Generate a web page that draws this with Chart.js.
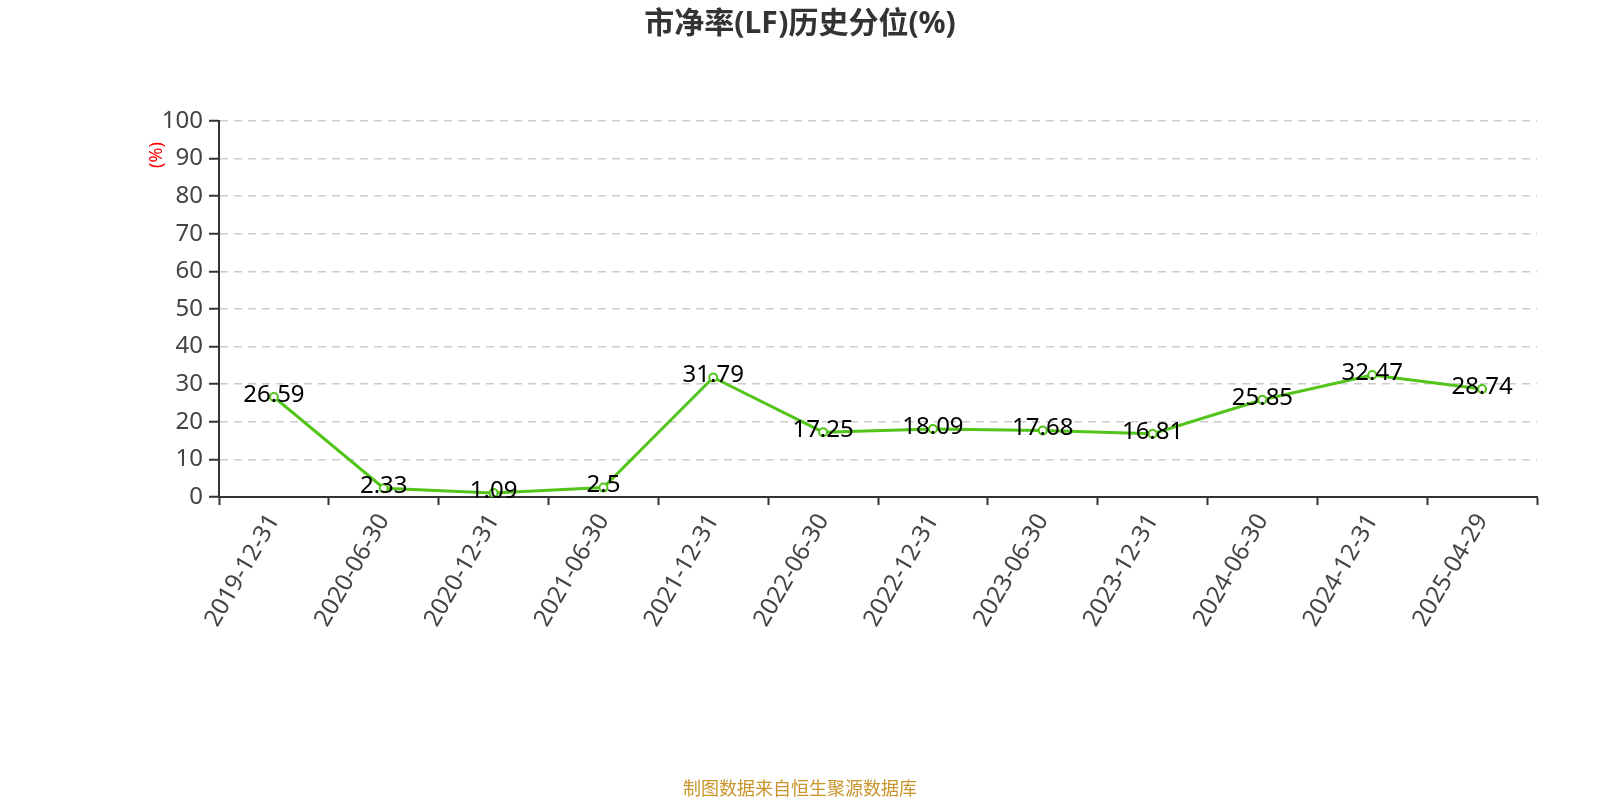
<!DOCTYPE html>
<html lang="zh">
<head>
<meta charset="UTF-8">
<title>市净率(LF)历史分位(%)</title>
<script src="https://cdn.jsdelivr.net/npm/chart.js@4.4.0/dist/chart.umd.min.js"></script>
<style>
    html, body { margin: 0; padding: 0; background: #fff; }
    #wrap { width: 1600px; height: 800px; }
</style>
</head>
<body>
<div id="wrap"><canvas id="pbChart" width="1600" height="800"></canvas></div>
<script>
// 日期
var dates = ['2019-12-31', '2020-06-30', '2020-12-31', '2021-06-30', '2021-12-31', '2022-06-30',
             '2022-12-31', '2023-06-30', '2023-12-31', '2024-06-30', '2024-12-31', '2025-04-29'];
// 历史分位值
var pbPercentile = [26.59, 2.33, 1.09, 2.5, 31.79, 17.25, 18.09, 17.68, 16.81, 25.85, 32.47, 28.74];
var yTicks = [0, 10, 20, 30, 40, 50, 60, 70, 80, 90, 100];

var FONT = "'Noto Sans', 'Noto Sans CJK SC', sans-serif";

// 标题, 单位, 数据来源
var textPlugin = {
    id: 'texts',
    afterDraw: function(chart) {
        var ctx = chart.ctx;
        ctx.save();
        ctx.textAlign = 'center';
        ctx.textBaseline = 'middle';
        ctx.fillStyle = '#333';
        ctx.font = 'bold 30px ' + FONT;
        ctx.fillText('市净率(LF)历史分位(%)', 800, 24);

        ctx.fillStyle = '#c9952b';
        ctx.font = '18px ' + FONT;
        ctx.fillText('制图数据来自恒生聚源数据库', 800, 790);

        ctx.translate(157, 155);
        ctx.rotate(-Math.PI / 2);
        ctx.fillStyle = '#ff0000';
        ctx.font = '18px ' + FONT;
        ctx.fillText('(%)', 0, 0);
        ctx.restore();
    }
};

// 数据标签
var labelPlugin = {
    id: 'pointLabels',
    afterDatasetsDraw: function(chart) {
        var ctx = chart.ctx;
        var meta = chart.getDatasetMeta(0);
        ctx.save();
        ctx.font = '24px ' + FONT;
        ctx.fillStyle = '#000';
        ctx.textAlign = 'center';
        ctx.textBaseline = 'middle';
        meta.data.forEach(function(pt, i) {
            ctx.fillText(String(pbPercentile[i]), pt.x, pt.y - 2);
        });
        ctx.restore();
    }
};

var ctx = document.getElementById('pbChart').getContext('2d');
var chart = new Chart(ctx, {
    type: 'line',
    data: {
        labels: dates,
        datasets: [{
            data: pbPercentile,
            borderColor: '#52c41a',
            borderWidth: 3,
            backgroundColor: '#fff',
            pointBackgroundColor: '#fff',
            pointBorderColor: '#52c41a',
            pointBorderWidth: 2,
            pointRadius: 4,
            tension: 0,
            fill: false
        }]
    },
    options: {
        responsive: false,
        animation: false,
        events: [],
        layout: { padding: { left: 0, right: 63, top: 121, bottom: 0 } },
        plugins: {
            legend: { display: false },
            title: { display: false },
            tooltip: { enabled: false }
        },
        scales: {
            x: {
                type: 'category',
                offset: true,
                grid: {
                    display: true,
                    offset: true,
                    drawOnChartArea: false,
                    drawTicks: true,
                    tickLength: 8,
                    tickColor: '#333',
                    tickWidth: 2
                },
                border: { display: true, color: '#333', width: 2 },
                ticks: {
                    autoSkip: false,
                    minRotation: 60,
                    maxRotation: 60,
                    padding: 4,
                    color: '#444',
                    font: { family: FONT, size: 24 }
                },
                afterFit: function(s) { s.height = 303; }
            },
            y: {
                min: 0,
                max: 100,
                afterBuildTicks: function(s) {
                    s.ticks = yTicks.map(function(v) { return { value: v }; });
                },
                grid: {
                    color: '#cccccc',
                    lineWidth: 1.5,
                    drawTicks: true,
                    tickLength: 10,
                    tickColor: '#333',
                    tickWidth: 2,
                    tickBorderDash: []
                },
                border: { display: true, color: '#333', width: 2, dash: [8, 6] },
                ticks: {
                    padding: 6,
                    color: '#444',
                    font: { family: FONT, size: 24 }
                },
                afterFit: function(s) { s.width = 219; }
            }
        }
    },
    plugins: [textPlugin, labelPlugin]
});
</script>
</body>
</html>
